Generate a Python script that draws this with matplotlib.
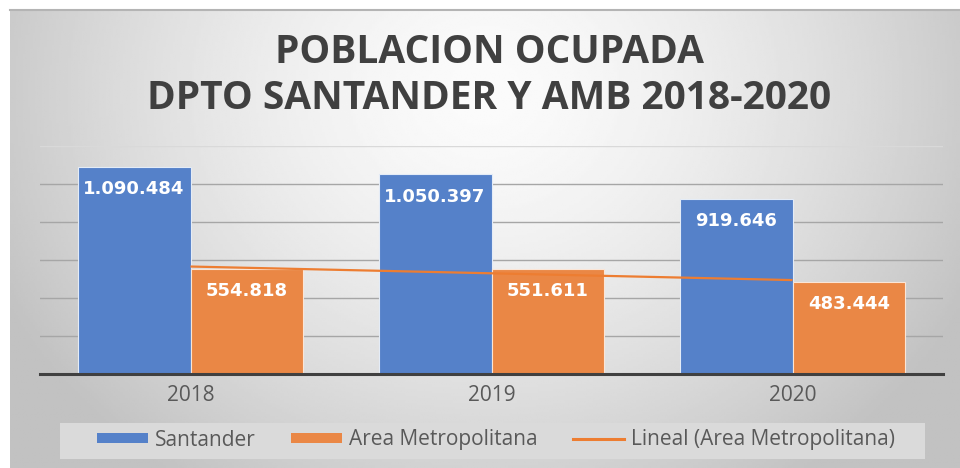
import matplotlib
matplotlib.use('Agg')
import matplotlib.pyplot as plt
from matplotlib.patches import Rectangle, Patch
from matplotlib.lines import Line2D
import numpy as np

years = ['2018', '2019', '2020']
santander = [1090484, 1050397, 919646]
area_metro = [554818, 551611, 483444]
series_names = ['Santander', 'Area Metropolitana', 'Lineal (Area Metropolitana)']
title_lines = ['POBLACION OCUPADA', 'DPTO SANTANDER Y AMB 2018-2020']

blue = '#5581c9'
orange = '#ea8745'
trend_color = '#ed7d31'
W, H = 960, 468


def fmt(v):
    # thousands separated with dots
    return '{:,}'.format(v).replace(',', '.')


fig = plt.figure(figsize=(W / 100, H / 100), dpi=100)
fig.patch.set_facecolor('white')

# radial gradient background of the chart area
bg = fig.add_axes([10 / W, 0, 950 / W, 459 / H], zorder=0)
gx, gy = np.meshgrid(np.linspace(-1, 1, 400), np.linspace(0, 1, 200))
r = np.sqrt((gx / 1.05) ** 2 + ((gy - 0.18) / 0.95) ** 2)
shade = np.clip(0.985 - 0.2 * r ** 1.5, 0.76, 0.99)
bg.imshow(shade, cmap='gray', vmin=0, vmax=1, aspect='auto', extent=(0, 1, 1, 0))
bg.set_axis_off()

# top border line of chart area
fig.add_artist(Line2D([10 / W, 1], [1 - 9.5 / H, 1 - 9.5 / H], color='#b4b4b4', lw=1.5,
                      transform=fig.transFigure))

# legend background box
fig.add_artist(Rectangle((60 / W, 1 - 459 / H), 865 / W, 36 / H, transform=fig.transFigure,
                         facecolor='#dadada', edgecolor='none', zorder=1))

ax = fig.add_axes([40 / W, 1 - 374 / H, 903 / W, 228 / H], zorder=2)
ax.set_facecolor('none')

x = np.arange(len(years))
width = 0.375
b1 = ax.bar(x - width / 2, santander, width, color=blue, edgecolor='#e4ecf7', linewidth=0.8, zorder=3)
b2 = ax.bar(x + width / 2, area_metro, width, color=orange, edgecolor='#fbe5d6', linewidth=0.8, zorder=3)

# linear trendline for area metropolitana
coef = np.polyfit(x, area_metro, 1)
ax.plot(x, np.polyval(coef, x), color=trend_color, lw=1.6, zorder=4, solid_capstyle='butt')

for bars, vals in ((b1, santander), (b2, area_metro)):
    for bar, v in zip(bars, vals):
        ax.annotate(fmt(v), (bar.get_x() + bar.get_width() / 2, v), xytext=(0, -16),
                    textcoords='offset points', ha='center', va='center', color='white',
                    fontsize=13, fontweight='bold', family='DejaVu Sans', zorder=5)

ax.set_xlim(-0.5, 2.5)
ax.set_ylim(0, 1200000)
ax.set_yticks(np.arange(200000, 1200001, 200000))
ax.yaxis.grid(True, color='#a6a6a6', lw=1.0, zorder=0)
ax.set_axisbelow(True)
ax.get_ygridlines()[-1].set_color('#d9d9d9')
ax.tick_params(axis='y', length=0, labelleft=False)
ax.set_xticks(x)
ax.set_xticklabels(years, family='Open Sans', fontsize=15, color='#595959')
ax.tick_params(axis='x', length=0, pad=8)
for s in ('top', 'right', 'left'):
    ax.spines[s].set_visible(False)
ax.spines['bottom'].set_color('#404040')
ax.spines['bottom'].set_linewidth(2.2)
ax.spines['bottom'].set_zorder(6)

# title
fig.text(490 / W, 1 - 63 / H, title_lines[0], ha='center', va='baseline', family='Open Sans',
         fontweight='bold', fontsize=28, color='#404040')
fig.text(489 / W, 1 - 109 / H, title_lines[1], ha='center', va='baseline', family='Open Sans',
         fontweight='bold', fontsize=28, color='#404040')

handles = [Patch(facecolor=blue, edgecolor='none'),
           Patch(facecolor=orange, edgecolor='none'),
           Line2D([], [], color=trend_color, lw=2.2)]
leg = fig.legend(handles, series_names, loc='center', bbox_to_anchor=(496 / W, 1 - 440 / H),
                 ncol=3, frameon=False, prop={'family': 'Open Sans', 'size': 15},
                 handlelength=2.45, handleheight=0.4, handletextpad=0.33, columnspacing=1.7,
                 labelcolor='#595959')
leg.set_zorder(7)

plt.savefig('out.png', dpi=100)
